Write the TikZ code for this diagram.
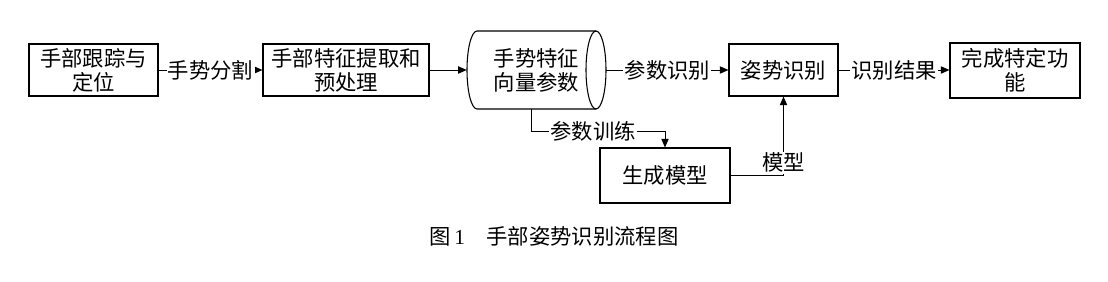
\documentclass[tikz,border=0pt]{standalone}
\usepackage{fontspec}
\setmainfont{Liberation Serif}
\newfontfamily\cjk{Noto Sans CJK SC}
\usetikzlibrary{arrows.meta,calc}
\begin{document}
\begin{tikzpicture}[x=0.75pt,y=-0.75pt,
  boxnode/.style={draw,line width=0.8pt,inner sep=0pt,align=center,font=\cjk\fontsize{16pt}{18pt}\selectfont},
  lbl/.style={fill=white,inner sep=1pt,font=\cjk\fontsize{16pt}{18pt}\selectfont},
  arr/.style={line width=0.75pt,-{Triangle[length=6.5pt,width=5.5pt]}},
  conn/.style={line width=0.75pt}]
\useasboundingbox (0,0) rectangle (1108,282);
% boxes
\node[boxnode,minimum width=96.75pt,minimum height=39pt] (b1) at (93.5,70) {手部跟踪与\\定位};
\node[boxnode,minimum width=124.5pt,minimum height=39pt] (b2) at (346,70) {手部特征提取和\\预处理};
\node[inner sep=0pt,minimum width=104.25pt,minimum height=58.5pt,align=center,font=\cjk\fontsize{16pt}{18pt}\selectfont] (cyl) at (536.5,70) {手势特征\\向量参数};
\draw[line width=0.8pt] (596,31) -- (477,31) arc[start angle=90,end angle=270,x radius=7.5pt,y radius=29.25pt] -- (596,109);
\draw[line width=0.8pt] (596,70) ellipse[x radius=7.5pt,y radius=29.25pt];
\node[boxnode,minimum width=81.75pt,minimum height=39pt] (b3) at (783.5,70) {姿势识别};
\node[boxnode,minimum width=97.5pt,minimum height=41.25pt] (b4) at (1015,70.5) {完成特定功\\能};
\node[boxnode,minimum width=97.5pt,minimum height=41.25pt] (b5) at (665,175.5) {生成模型};
% connectors
\draw[arr] (b1) -- node[lbl]{手势分割} (b2);
\draw[arr] (b2) -- (cyl);
\draw[arr] (cyl) -- node[lbl]{参数识别} (b3);
\draw[arr] (b3) -- node[lbl]{识别结果} (b4.west|-b3);
\coordinate (tr) at (665,131);
\draw[arr] ([xshift=-3.4pt]cyl.south) |- node[pos=0.73,lbl]{参数训练} (tr) -- (b5.north);
\draw[arr] (b5.east) -| node[pos=0.58,lbl]{模型} (b3.south);
% caption
\node[font=\fontsize{16pt}{18pt}\selectfont,inner sep=0pt] (cap) at (554,236) {{\cjk 图}\,1\quad{\cjk 手部姿势识别流程图}};
\end{tikzpicture}
\end{document}
